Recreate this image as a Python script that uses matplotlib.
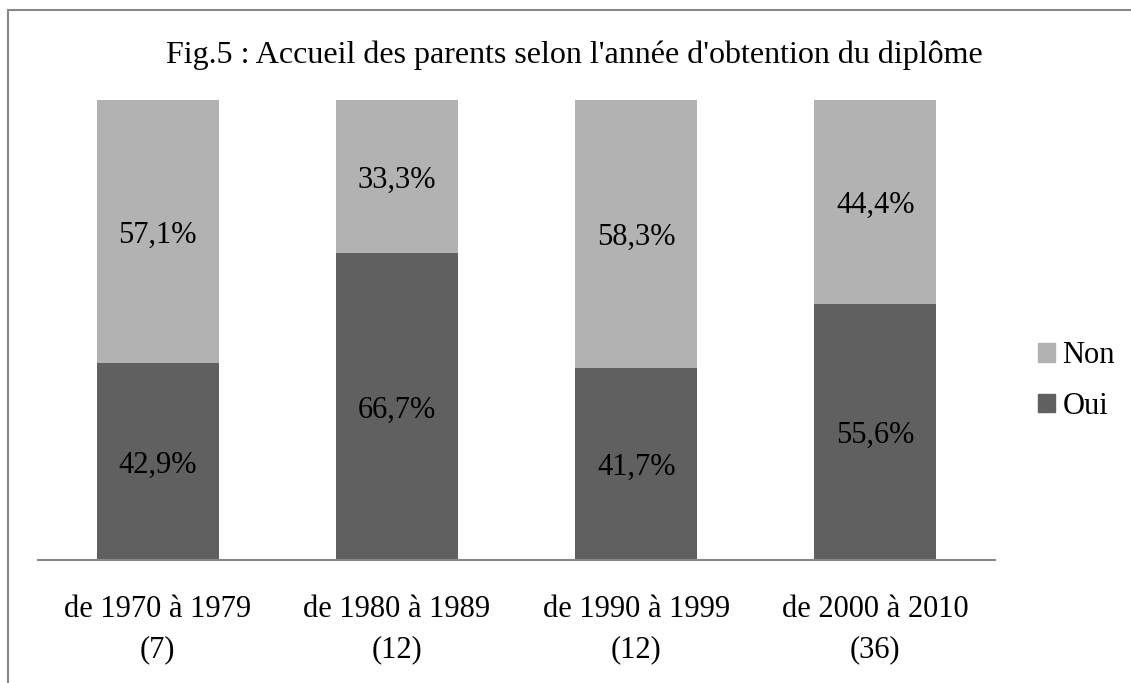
import matplotlib
matplotlib.use("Agg")
import matplotlib.pyplot as plt
from matplotlib.patches import Rectangle, Patch

categories = ["de 1970 à 1979\n(7)", "de 1980 à 1989\n(12)", "de 1990 à 1999\n(12)", "de 2000 à 2010\n(36)"]
oui = [42.9, 66.7, 41.7, 55.6]
non = [57.1, 33.3, 58.3, 44.4]
title = "Fig.5 : Accueil des parents selon l'année d'obtention du diplôme"

plt.rcParams['font.family'] = ['Liberation Serif', 'DejaVu Serif']

c_oui = "#606060"
c_non = "#b2b2b2"
FS = 22

fig = plt.figure(figsize=(11.31, 6.83), dpi=100)
W, H = 1131, 683
ax = fig.add_axes([38 / W, 1 - 560 / H, 957 / W, 460 / H])

x = list(range(len(categories)))
ax.bar(x, oui, width=0.51, color=c_oui)
ax.bar(x, non, width=0.51, bottom=oui, color=c_non)
for i in x:
    ax.text(i, oui[i] / 2, f"{oui[i]:.1f}%".replace(".", ","), ha="center", va="center_baseline", fontsize=FS)
    ax.text(i, oui[i] + non[i] / 2, f"{non[i]:.1f}%".replace(".", ","), ha="center", va="center_baseline", fontsize=FS)

ax.set_xlim(-0.5, 3.5)
ax.set_ylim(0, 100)
ax.set_yticks([])
ax.set_xticks(x)
ax.set_xticklabels(categories, fontsize=FS, linespacing=1.52)
ax.tick_params(axis="x", length=0, pad=25)
for s in ["top", "right", "left"]:
    ax.spines[s].set_visible(False)
ax.spines["bottom"].set_color("#888888")
ax.spines["bottom"].set_linewidth(1.5)

fig.text(574 / W, 1 - 55 / H, title, ha="center", va="center", fontsize=23)

fig.patches.append(Rectangle((8 / W, -0.1), 1.2, 1 - 10 / H + 0.1, transform=fig.transFigure,
                             fill=False, edgecolor="#888888", linewidth=1.5))

handles = [Patch(color=c_non, label="Non"), Patch(color=c_oui, label="Oui")]
fig.legend(handles=handles, loc="center left", bbox_to_anchor=(1038 / W, 1 - 381 / H),
           frameon=False, fontsize=FS, handlelength=0.55, handleheight=0.55, handletextpad=0.25,
           labelspacing=0.7, borderpad=0, borderaxespad=0)

fig.savefig("out.png", dpi=100)
